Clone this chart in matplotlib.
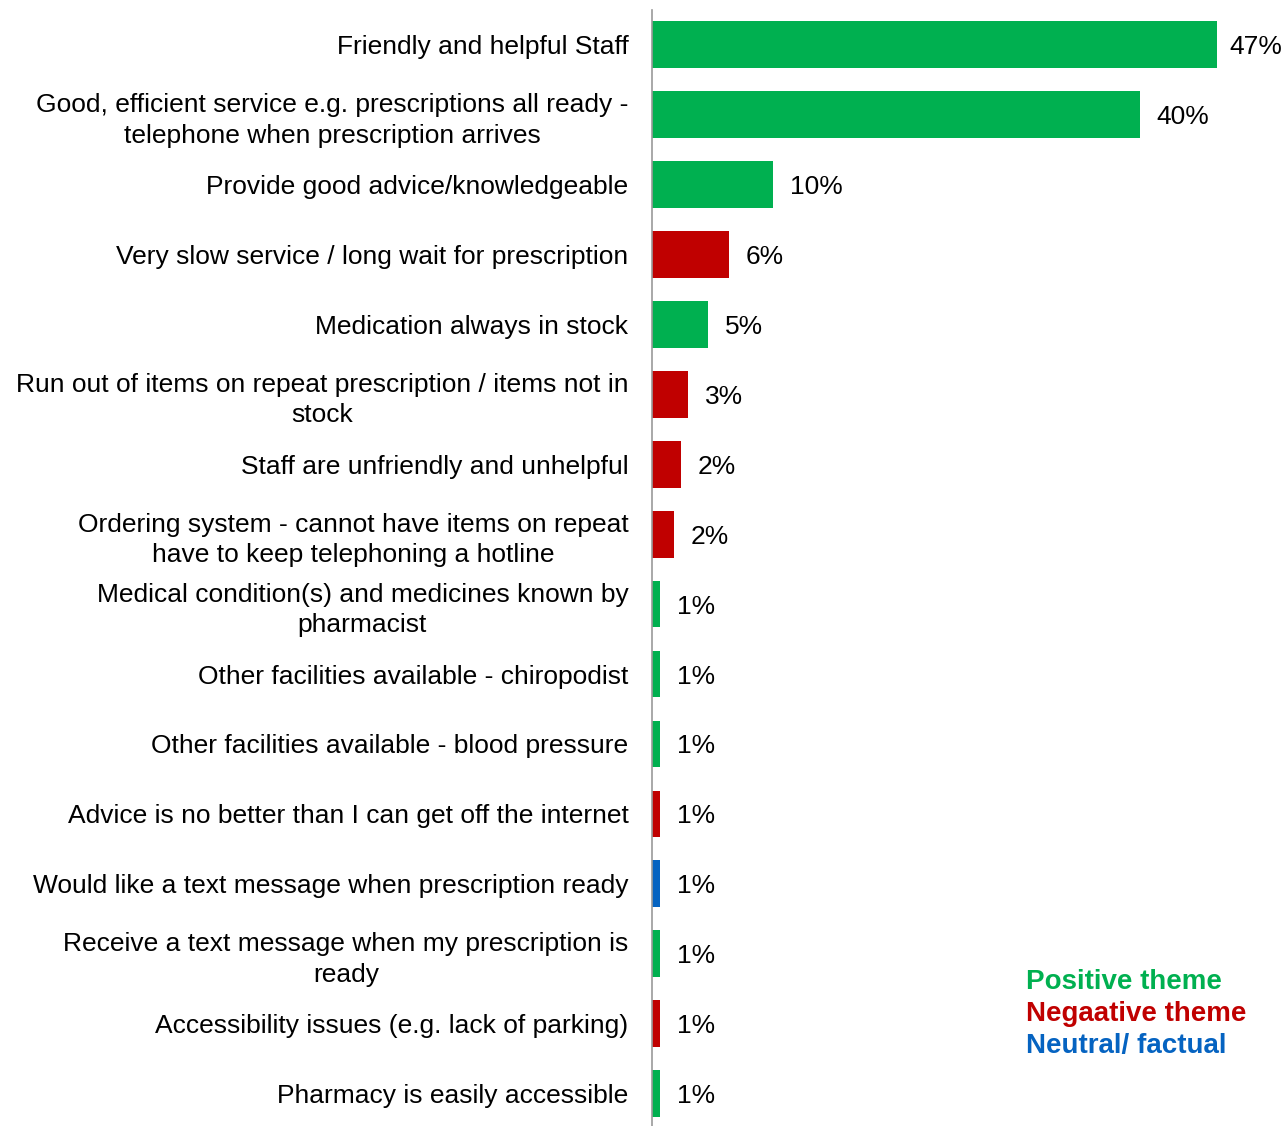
import matplotlib.pyplot as plt
import numpy as np

plt.rcParams['font.family'] = ['Liberation Sans', 'DejaVu Sans']

# themes, top to bottom
themes = ['Friendly and helpful Staff',
          'Good, efficient service e.g. prescriptions all ready -\ntelephone when prescription arrives',
          'Provide good advice/knowledgeable',
          'Very slow service / long wait for prescription',
          'Medication always in stock',
          'Run out of items on repeat prescription / items not in\nstock',
          'Staff are unfriendly and unhelpful',
          'Ordering system - cannot have items on repeat\nhave to keep telephoning a hotline',
          'Medical condition(s) and medicines known by\npharmacist',
          'Other facilities available - chiropodist',
          'Other facilities available - blood pressure',
          'Advice is no better than I can get off the internet',
          'Would like a text message when prescription ready',
          'Receive a text message when my prescription is\nready',
          'Accessibility issues (e.g. lack of parking)',
          'Pharmacy is easily accessible']
values = [47.0, 40.6, 10.1, 6.4, 4.7, 3.0, 2.4, 1.8, 0.7, 0.7, 0.7, 0.7, 0.7, 0.7, 0.7, 0.7]
labels = ['47%', '40%', '10%', '6%', '5%', '3%', '2%', '2%',
          '1%', '1%', '1%', '1%', '1%', '1%', '1%', '1%']
kind = ['pos', 'pos', 'pos', 'neg', 'pos', 'neg', 'neg', 'neg',
        'pos', 'pos', 'pos', 'neg', 'neu', 'pos', 'neg', 'pos']

colours = {'pos': '#00B050', 'neg': '#C00000', 'neu': '#0563C1'}
legend_text = [('Positive theme', 'pos'), ('Negaative theme', 'neg'), ('Neutral/ factual', 'neu')]

fig = plt.figure(figsize=(12.84, 11.26), dpi=100)
ax = fig.add_axes([652/1284, 0.0, 1 - 652/1284, 1 - 10/1126])

y = np.arange(len(themes))
bars = ax.barh(y, values, height=0.67, color=[colours[k] for k in kind])
for b, lab in zip(bars, labels):
    gap = 9 if b.get_width() > 45 else 12   # first label sits tight at the edge
    ax.annotate(lab, xy=(b.get_width(), b.get_y() + b.get_height()/2),
                xytext=(gap, 0), textcoords='offset points',
                va='center_baseline', ha='left', fontsize=19)

ax.set_yticks(y)
ax.set_yticklabels(themes, fontsize=19, multialignment='center', linespacing=1.36)
ax.tick_params(axis='y', length=0, pad=17)
ax.set_ylim(15.46, -0.49)
ax.set_xlim(0, 52.6)
ax.set_xticks([])
for s in ['top', 'right', 'bottom']:
    ax.spines[s].set_visible(False)
ax.spines['left'].set_color('#999999')
ax.spines['left'].set_linewidth(1.2)

for i, (txt, k) in enumerate(legend_text):
    fig.text(1026/1284, 1 - (979 + 32*i)/1126, txt, color=colours[k],
             fontsize=20, fontweight='bold', va='center_baseline', ha='left')

fig.savefig('out.png', dpi=100)
